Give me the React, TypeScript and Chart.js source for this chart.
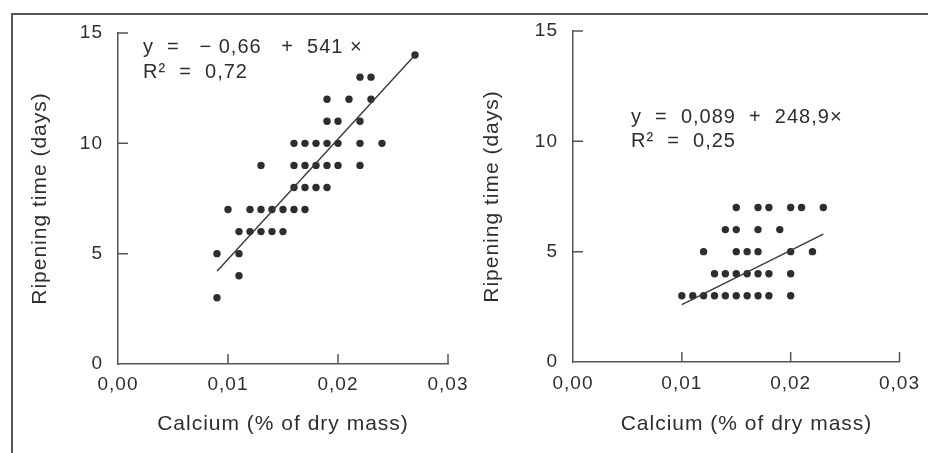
import React, { useEffect, useRef } from "react";
import { Chart, registerables } from "chart.js";

Chart.register(...registerables);

// ---------- data ----------
const leftCalcium = [
  0.009,
  0.011,
  0.009, 0.011,
  0.011, 0.012, 0.013, 0.014, 0.015,
  0.010, 0.012, 0.013, 0.014, 0.015, 0.016, 0.017,
  0.016, 0.017, 0.018, 0.019,
  0.013, 0.016, 0.017, 0.018, 0.019, 0.020, 0.022,
  0.016, 0.017, 0.018, 0.019, 0.020, 0.022, 0.024,
  0.019, 0.020, 0.022,
  0.019, 0.021, 0.023,
  0.022, 0.023,
  0.027,
];
const leftDays = [
  3,
  4,
  5, 5,
  6, 6, 6, 6, 6,
  7, 7, 7, 7, 7, 7, 7,
  8, 8, 8, 8,
  9, 9, 9, 9, 9, 9, 9,
  10, 10, 10, 10, 10, 10, 10,
  11, 11, 11,
  12, 12, 12,
  13, 13,
  14,
];
const leftFitCalcium = [0.009, 0.027];
const leftFitDays = [4.2, 14.0];
const leftEquation = ["y  =   \u2212 0,66   +  541 \u00d7", "R\u00b2  =  0,72"];

const rightCalcium = [
  0.010, 0.011, 0.012, 0.013, 0.014, 0.015, 0.016, 0.017, 0.018, 0.020,
  0.013, 0.014, 0.015, 0.016, 0.017, 0.018, 0.020,
  0.012, 0.015, 0.016, 0.017, 0.020, 0.022,
  0.014, 0.015, 0.017, 0.019,
  0.015, 0.017, 0.018, 0.020, 0.021, 0.023,
];
const rightDays = [
  3, 3, 3, 3, 3, 3, 3, 3, 3, 3,
  4, 4, 4, 4, 4, 4, 4,
  5, 5, 5, 5, 5, 5,
  6, 6, 6, 6,
  7, 7, 7, 7, 7, 7,
];
const rightFitCalcium = [0.010, 0.023];
const rightFitDays = [2.6, 5.8];
const rightEquation = ["y  =  0,089  +  248,9\u00d7", "R\u00b2  =  0,25"];

const xTickValues = [0, 0.01, 0.02, 0.03];
const xTickLabels = ["0,00", "0,01", "0,02", "0,03"];
const yTickValues = [0, 5, 10, 15];
const yTickLabels = ["0", "5", "10", "15"];

const xTitle = "Calcium (% of dry mass)";
const yTitle = "Ripening time (days)";

// ---------- style ----------
const FONT = '"Liberation Sans", Arial, Helvetica, sans-serif';
const INK = "#2e2e2e";
const AXIS = "#555555";

const decorPlugin = {
  id: "decor",
  beforeDraw(chart: any) {
    (chart.ctx as any).letterSpacing = "1px";
  },
  afterDraw(chart: any, _args: any, opts: any) {
    const { ctx, chartArea, scales } = chart;
    const xs = scales.x;
    const ys = scales.y;
    ctx.save();
    ctx.strokeStyle = AXIS;
    ctx.lineWidth = 1.5;
    ctx.beginPath();
    ys.ticks.forEach((t: any) => {
      if (t.value === 0) return;
      const py = ys.getPixelForValue(t.value);
      ctx.moveTo(chartArea.left, py);
      ctx.lineTo(chartArea.left + 10, py);
    });
    xs.ticks.forEach((t: any) => {
      if (t.value === 0) return;
      const px = xs.getPixelForValue(t.value);
      ctx.moveTo(px, chartArea.bottom);
      ctx.lineTo(px, chartArea.bottom - 10);
    });
    ctx.stroke();

    ctx.fillStyle = INK;
    ctx.font = `20px ${FONT}`;
    ctx.textAlign = "left";
    ctx.textBaseline = "middle";
    (opts.lines || []).forEach((line: string, i: number) => {
      ctx.fillText(line, chartArea.left + opts.dx, chartArea.top + opts.dy + i * opts.gap);
    });
    ctx.restore();
  },
};

type PanelProps = {
  left: number;
  width: number;
  calcium: number[];
  days: number[];
  fitCalcium: number[];
  fitDays: number[];
  equation: string[];
  eqDx: number;
  eqDy: number;
  eqGap: number;
  yWidth: number;
  xHeight: number;
  padTop: number;
  padRight: number;
  yTitlePad: number;
  xTitleText: string;
  xLabelPad: number;
};

function Panel(p: PanelProps) {
  const ref = useRef<HTMLCanvasElement | null>(null);
  useEffect(() => {
    if (!ref.current) return;
    const points = p.calcium.map((x, i) => ({ x, y: p.days[i] }));
    const fit = p.fitCalcium.map((x, i) => ({ x, y: p.fitDays[i] }));
    const chart = new Chart(ref.current, {
      type: "scatter",
      data: {
        datasets: [
          {
            type: "line",
            data: fit,
            borderColor: "#3a3a3a",
            borderWidth: 1.4,
            pointRadius: 0,
            fill: false,
          } as any,
          {
            data: points,
            backgroundColor: INK,
            borderWidth: 0,
            pointRadius: 3.7,
            pointHoverRadius: 3.7,
          },
        ],
      },
      plugins: [decorPlugin as any],
      options: {
        animation: false,
        responsive: false,
        events: [],
        layout: {
          autoPadding: false,
          padding: { left: 0, right: p.padRight, top: p.padTop, bottom: 0 },
        },
        plugins: {
          legend: { display: false },
          tooltip: { enabled: false },
          decor: { lines: p.equation, dx: p.eqDx, dy: p.eqDy, gap: p.eqGap },
        } as any,
        scales: {
          x: {
            type: "linear",
            min: 0,
            max: 0.03,
            afterBuildTicks: (s: any) => {
              s.ticks = xTickValues.map((v) => ({ value: v }));
            },
            afterFit: (s: any) => {
              s.height = p.xHeight;
            },
            grid: { display: false, drawTicks: false },
            border: { display: true, color: AXIS, width: 1.5 },
            ticks: {
              padding: p.xLabelPad,
              color: INK,
              font: { family: FONT, size: 19 },
              maxRotation: 0,
              callback: (_v: any, i: number) => xTickLabels[i],
            },
            title: {
              display: true,
              text: p.xTitleText,
              color: INK,
              font: { family: FONT, size: 21 },
              padding: { top: 0, bottom: 16 },
            },
          },
          y: {
            type: "linear",
            min: 0,
            max: 15,
            afterBuildTicks: (s: any) => {
              s.ticks = yTickValues.map((v) => ({ value: v }));
            },
            afterFit: (s: any) => {
              s.width = p.yWidth;
            },
            grid: { display: false, drawTicks: false },
            border: { display: true, color: AXIS, width: 1.5 },
            ticks: {
              padding: 15,
              color: INK,
              font: { family: FONT, size: 19 },
              callback: (_v: any, i: number) => yTickLabels[i],
            },
            title: {
              display: true,
              text: yTitle,
              color: INK,
              font: { family: FONT, size: 21 },
              padding: { top: p.yTitlePad, bottom: 0 },
            },
          },
        },
      } as any,
    });
    return () => chart.destroy();
  }, []);
  return (
    <canvas
      ref={ref}
      width={p.width}
      height={453}
      style={{ position: "absolute", left: p.left, top: 0, width: p.width, height: 453 }}
    />
  );
}

export default function App() {
  return (
    <div
      style={{
        position: "fixed",
        left: 0,
        top: 0,
        width: 928,
        height: 453,
        background: "#ffffff",
        overflow: "hidden",
      }}
    >
      <div
        style={{
          position: "absolute",
          left: 11,
          top: 13,
          width: 930,
          height: 450,
          borderTop: `2px solid ${AXIS}`,
          borderLeft: `2px solid ${AXIS}`,
        }}
      />
      <Panel
        left={0}
        width={480}
        calcium={leftCalcium}
        days={leftDays}
        fitCalcium={leftFitCalcium}
        fitDays={leftFitDays}
        equation={leftEquation}
        eqDx={25}
        eqDy={14}
        eqGap={25.5}
        yWidth={118}
        xHeight={89}
        padTop={33}
        padRight={32}
        yTitlePad={28}
        xTitleText={xTitle}
        xLabelPad={9}
      />
      <Panel
        left={464}
        width={464}
        calcium={rightCalcium}
        days={rightDays}
        fitCalcium={rightFitCalcium}
        fitDays={rightFitDays}
        equation={rightEquation}
        eqDx={58}
        eqDy={86}
        eqGap={24}
        yWidth={109}
        xHeight={91}
        padTop={31}
        padRight={26}
        yTitlePad={16}
        xTitleText={"   " + xTitle}
        xLabelPad={10}
      />
    </div>
  );
}
